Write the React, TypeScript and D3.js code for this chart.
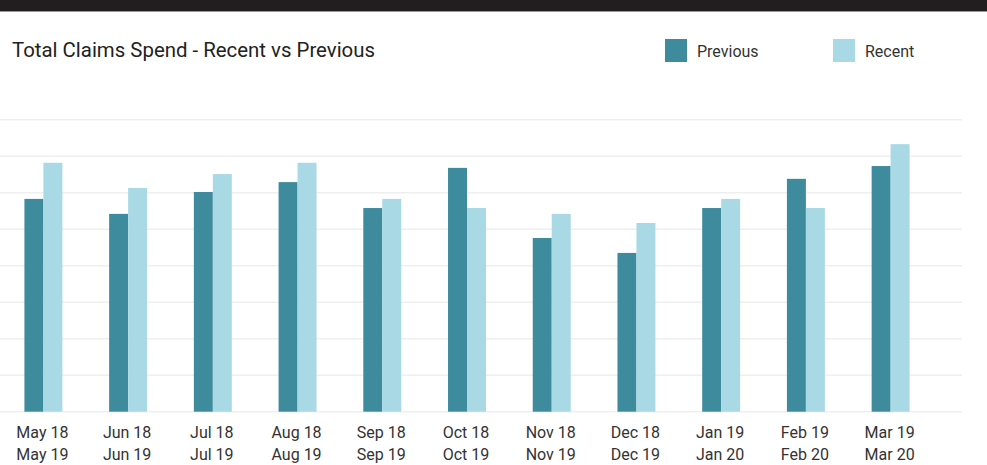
import React, { useEffect, useRef } from "react";
import * as d3 from "d3";

const months = ["May", "Jun", "Jul", "Aug", "Sep", "Oct", "Nov", "Dec", "Jan", "Feb", "Mar"];
const previousLabels = ["May 18", "Jun 18", "Jul 18", "Aug 18", "Sep 18", "Oct 18", "Nov 18", "Dec 18", "Jan 19", "Feb 19", "Mar 19"];
const recentLabels = ["May 19", "Jun 19", "Jul 19", "Aug 19", "Sep 19", "Oct 19", "Nov 19", "Dec 19", "Jan 20", "Feb 20", "Mar 20"];
const previous = [583, 542, 602, 629, 558, 668, 476, 435, 558, 638, 673];
const recent = [682, 613, 651, 682, 583, 558, 542, 517, 583, 558, 733];
const gridTicks = [0, 100, 200, 300, 400, 500, 600, 700, 800];

const width = 987;
const height = 465;
const colors = { Previous: "#3e8b9d", Recent: "#a8d9e4" };

export default function App() {
  const ref = useRef<SVGSVGElement>(null);

  useEffect(() => {
    const svg = d3.select(ref.current);
    svg.selectAll("*").remove();

    // dark header strip
    svg.append("rect").attr("x", 0).attr("y", 0).attr("width", width).attr("height", 11).attr("fill", "#221e1f");
    svg.append("rect").attr("x", 0).attr("y", 11).attr("width", width).attr("height", 1).attr("fill", "#9a9a9a");

    svg.append("text")
      .attr("x", 12)
      .attr("y", 57)
      .attr("font-size", 20.4)
      .attr("fill", "#222")
      .text("Total Claims Spend - Recent vs Previous");

    // legend
    const legend = [
      { key: "Previous", x: 665 },
      { key: "Recent", x: 833 },
    ];
    const lg = svg.append("g");
    legend.forEach((l) => {
      lg.append("rect").attr("x", l.x).attr("y", 39).attr("width", 22).attr("height", 23)
        .attr("fill", colors[l.key as keyof typeof colors]);
      lg.append("text").attr("x", l.x + 32).attr("y", 57).attr("font-size", 16).attr("fill", "#333").text(l.key);
    });

    const y = d3.scaleLinear().domain([0, 800]).range([411.7, 119.7]);
    const x = d3.scaleBand().domain(months).range([-1, 935]).paddingInner(0.552).paddingOuter(0.3);
    const x1 = d3.scaleBand().domain(["Previous", "Recent"]).range([0, x.bandwidth()]);

    svg.append("g")
      .selectAll("line")
      .data(gridTicks)
      .join("line")
      .attr("x1", 0)
      .attr("x2", 962)
      .attr("y1", (d) => y(d))
      .attr("y2", (d) => y(d))
      .attr("stroke", "#efefef")
      .attr("stroke-width", 1.5);

    const groups = svg.append("g")
      .selectAll("g")
      .data(months)
      .join("g")
      .attr("transform", (d) => `translate(${x(d)},0)`);

    groups.append("rect")
      .attr("x", x1("Previous")!)
      .attr("width", x1.bandwidth())
      .attr("y", (_, i) => y(previous[i]))
      .attr("height", (_, i) => y(0) - y(previous[i]))
      .attr("fill", colors.Previous);

    groups.append("rect")
      .attr("x", x1("Recent")!)
      .attr("width", x1.bandwidth())
      .attr("y", (_, i) => y(recent[i]))
      .attr("height", (_, i) => y(0) - y(recent[i]))
      .attr("fill", colors.Recent);

    const labels = svg.append("g")
      .selectAll("text")
      .data(months)
      .join("text")
      .attr("text-anchor", "middle")
      .attr("font-size", 16)
      .attr("fill", "#333");
    labels.append("tspan")
      .attr("x", (d) => x(d)! + x.bandwidth() / 2 - 1)
      .attr("y", 438)
      .text((_, i) => previousLabels[i]);
    labels.append("tspan")
      .attr("x", (d) => x(d)! + x.bandwidth() / 2 - 1)
      .attr("y", 460)
      .text((_, i) => recentLabels[i]);
  }, []);

  return (
    <svg
      ref={ref}
      width={width}
      height={height}
      style={{ position: "absolute", left: 0, top: 0, fontFamily: "Roboto, sans-serif", background: "#fff" }}
    />
  );
}
